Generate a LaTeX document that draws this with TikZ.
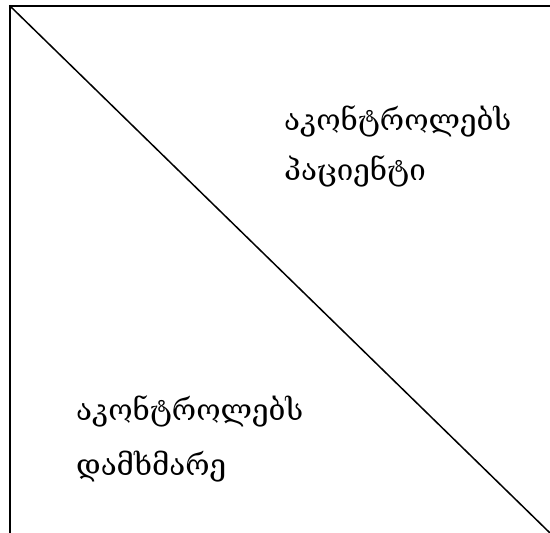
\documentclass[tikz,border=0pt]{standalone}
\usepackage{fontspec}
\newfontfamily\geo{DejaVu Serif}
\begin{document}
\begin{tikzpicture}[x=1pt,y=1pt,
  edge/.style={line width=1.5pt, line cap=rect},
  lbl/.style={anchor=base west, inner sep=0pt, font=\geo\fontsize{29.5}{35}\selectfont}]
\useasboundingbox (0,0) rectangle (550,-533);
\coordinate (tl) at (10,-6);
\coordinate (tr) at (550,-6);
\coordinate (bl) at (10,-533);
\coordinate (br) at (550,-533);
\draw[edge] (tr) -- (tl) -- (bl);
\draw[edge] (tl) -- (br);
\node[lbl] (p1) at (284,-130) {აკონტროლებს};
\node[lbl] (p2) at (284,-180) {პაციენტი};
\node[lbl] (d1) at (76,-420) {აკონტროლებს};
\node[lbl] (d2) at (76,-475) {დამხმარე};
\end{tikzpicture}
\end{document}
